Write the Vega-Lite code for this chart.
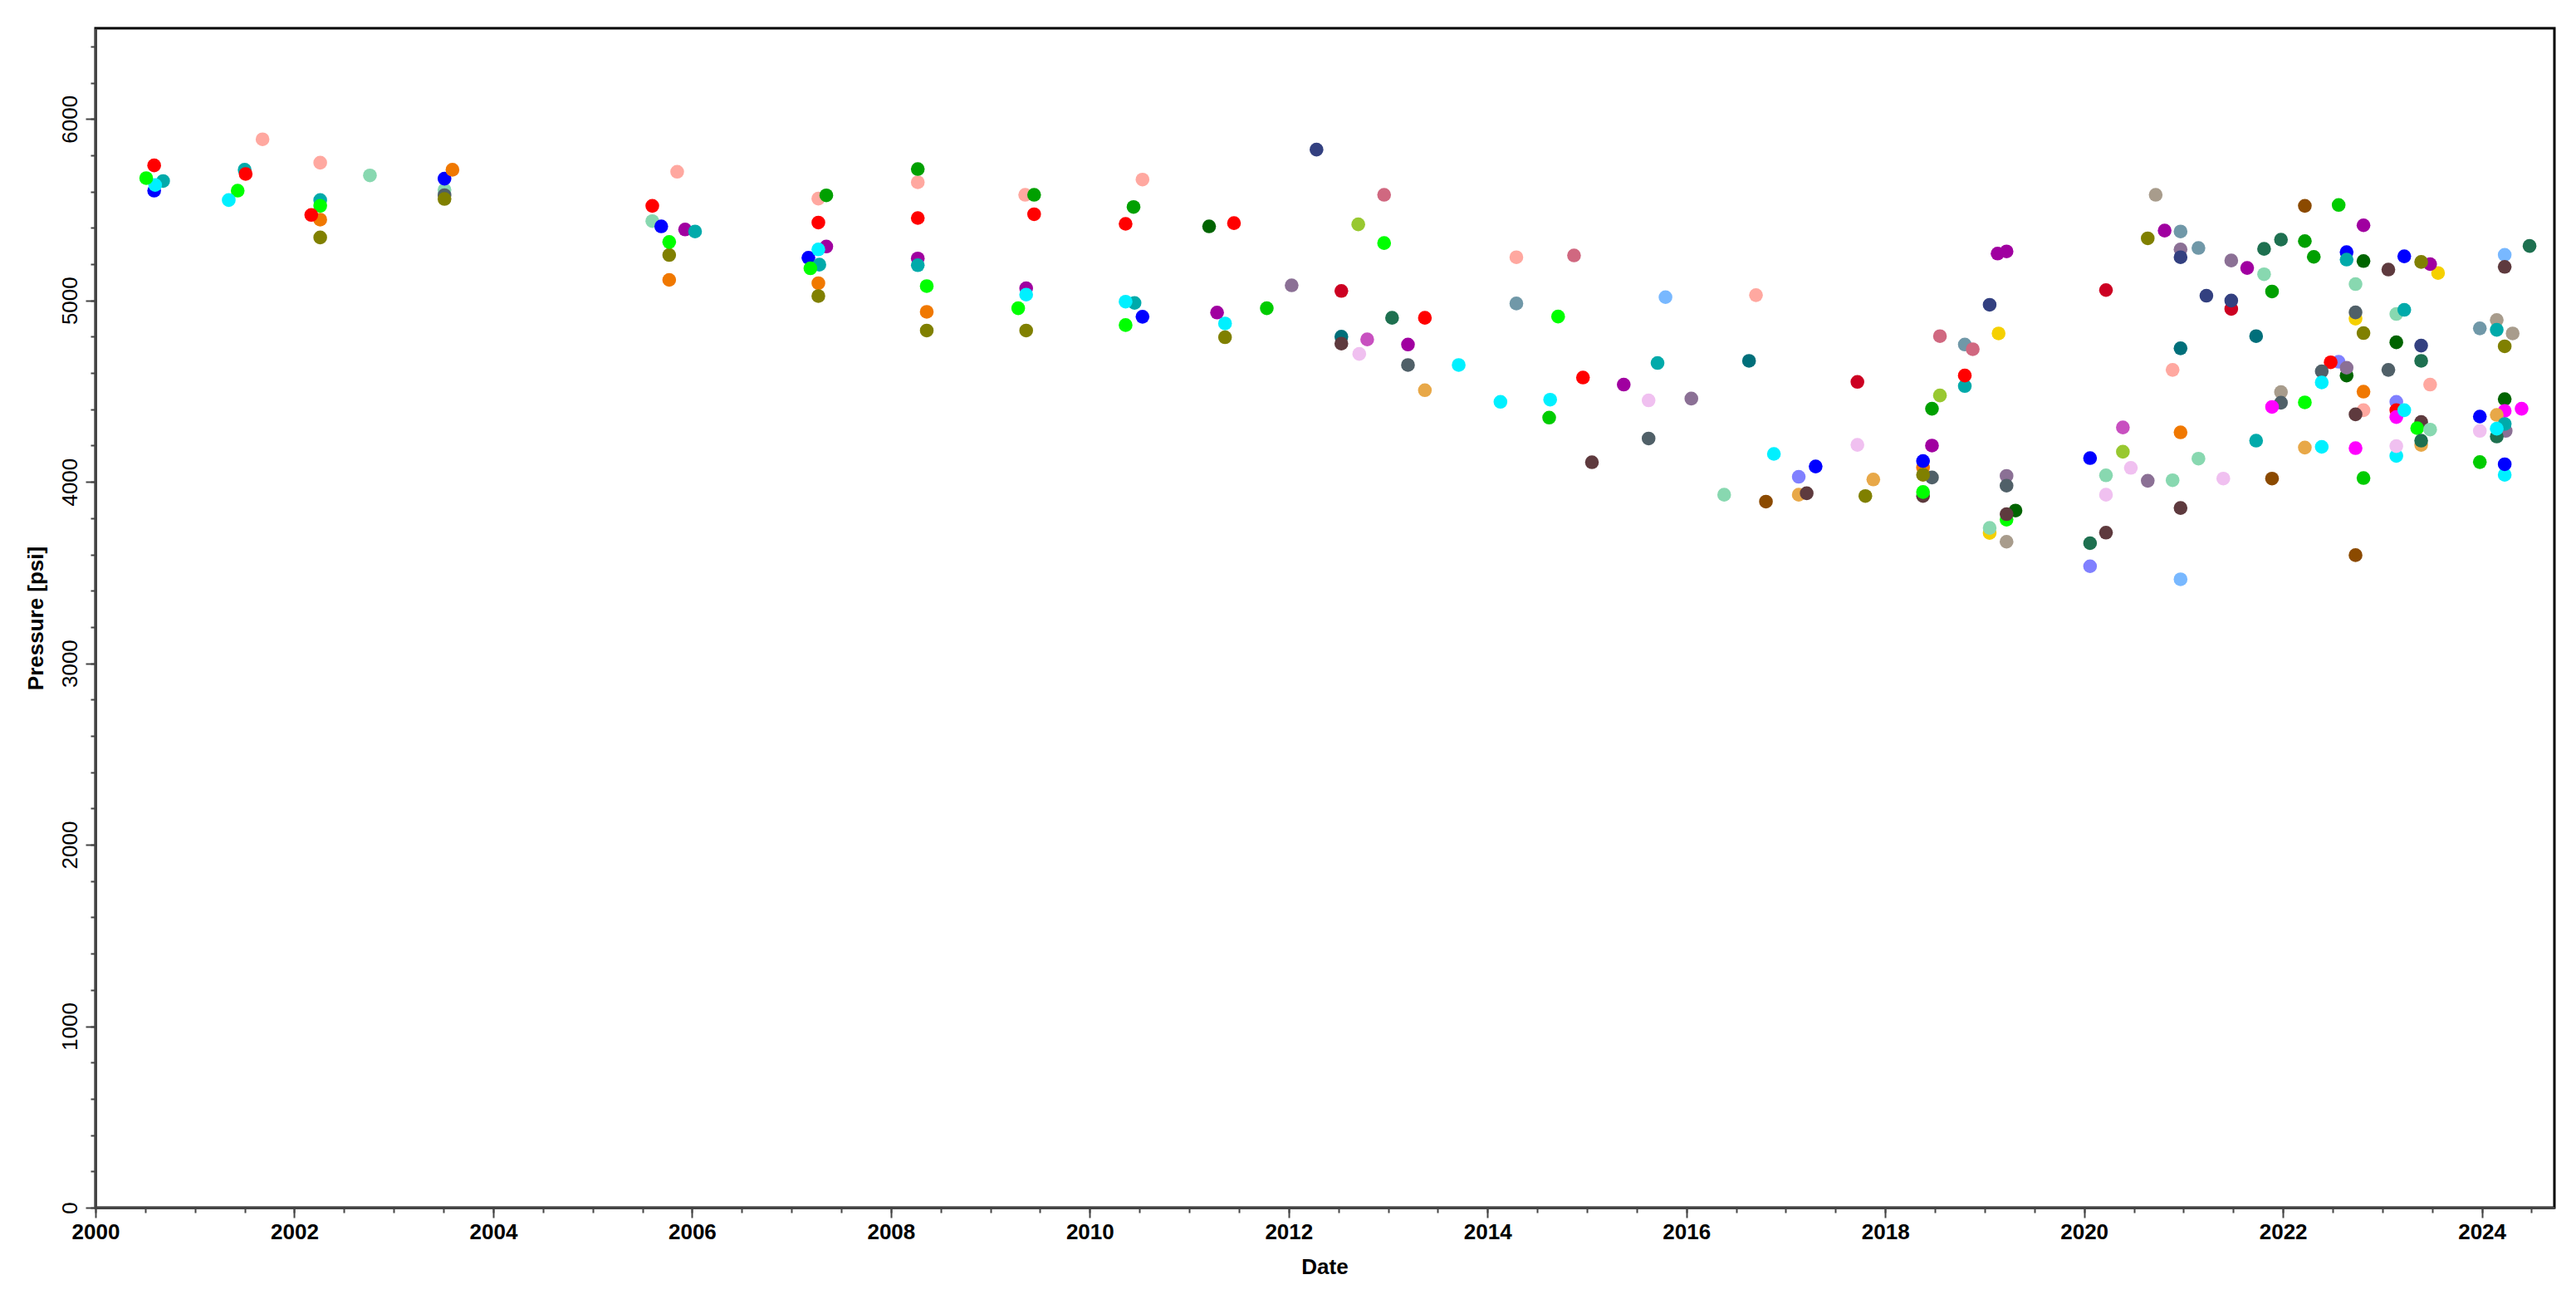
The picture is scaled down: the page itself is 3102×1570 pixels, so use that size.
{
  "$schema": "https://vega.github.io/schema/vega-lite/v6.json",
  "autosize": {"type": "none"},
  "width": 2961,
  "height": 1420,
  "padding": {"left": 115, "top": 34, "right": 26, "bottom": 116},
  "background": "white",
  "config": {
    "view": {"stroke": "#000000", "strokeWidth": 3},
    "axis": {"grid": false, "labelFont": "Liberation Sans", "titleFont": "Liberation Sans", "labelColor": "#000000", "titleColor": "#000000", "domainColor": "#444444", "domainWidth": 3, "tickColor": "#444444", "tickWidth": 2, "labelFlush": false, "labelOverlap": false, "labelBound": false}
  },
  "data": {"values": [
    {"t":2000.59,"p":5605,"c":"blue"},{"t":2000.68,"p":5658,"c":"teal"},{"t":2000.60,"p":5636,"c":"cyan"},{"t":2000.51,"p":5674,"c":"lime"},{"t":2000.59,"p":5744,"c":"red"},
    {"t":2001.68,"p":5888,"c":"salmon"},{"t":2001.50,"p":5720,"c":"teal"},{"t":2001.51,"p":5697,"c":"red"},{"t":2001.43,"p":5605,"c":"lime"},{"t":2001.34,"p":5553,"c":"cyan"},
    {"t":2002.26,"p":5759,"c":"salmon"},{"t":2002.26,"p":5553,"c":"teal"},{"t":2002.26,"p":5521,"c":"lime"},{"t":2002.26,"p":5445,"c":"orange"},{"t":2002.17,"p":5471,"c":"red"},{"t":2002.26,"p":5347,"c":"olive"},
    {"t":2002.76,"p":5689,"c":"mint"},
    {"t":2003.51,"p":5609,"c":"mint"},{"t":2003.51,"p":5580,"c":"slated"},{"t":2003.51,"p":5559,"c":"olive"},{"t":2003.51,"p":5671,"c":"blue"},{"t":2003.59,"p":5720,"c":"orange"},
    {"t":2005.85,"p":5709,"c":"salmon"},{"t":2005.60,"p":5521,"c":"red"},{"t":2005.60,"p":5437,"c":"mint"},{"t":2005.69,"p":5408,"c":"blue"},{"t":2005.93,"p":5391,"c":"purple"},{"t":2006.03,"p":5380,"c":"teal"},{"t":2005.77,"p":5250,"c":"olive"},{"t":2005.77,"p":5322,"c":"lime"},{"t":2005.77,"p":5113,"c":"orange"},
    {"t":2007.27,"p":5561,"c":"salmon"},{"t":2007.35,"p":5579,"c":"dgreen"},{"t":2007.27,"p":5429,"c":"red"},{"t":2007.35,"p":5297,"c":"purple"},{"t":2007.17,"p":5235,"c":"blue"},{"t":2007.28,"p":5197,"c":"teal"},{"t":2007.27,"p":5281,"c":"cyan"},{"t":2007.19,"p":5177,"c":"lime"},{"t":2007.27,"p":5095,"c":"orange"},{"t":2007.27,"p":5024,"c":"olive"},
    {"t":2008.27,"p":5651,"c":"salmon"},{"t":2008.27,"p":5724,"c":"dgreen"},{"t":2008.27,"p":5454,"c":"red"},{"t":2008.27,"p":5231,"c":"purple"},{"t":2008.27,"p":5194,"c":"teal"},{"t":2008.36,"p":5079,"c":"lime"},{"t":2008.36,"p":4937,"c":"orange"},{"t":2008.36,"p":4834,"c":"olive"},
    {"t":2009.35,"p":5582,"c":"salmon"},{"t":2009.44,"p":5582,"c":"dgreen"},{"t":2009.44,"p":5475,"c":"red"},{"t":2009.36,"p":5067,"c":"purple"},{"t":2009.36,"p":5032,"c":"cyan"},{"t":2009.28,"p":4957,"c":"lime"},{"t":2009.36,"p":4834,"c":"olive"},
    {"t":2010.53,"p":5666,"c":"salmon"},{"t":2010.44,"p":5515,"c":"dgreen"},{"t":2010.36,"p":5422,"c":"red"},{"t":2010.45,"p":4986,"c":"teal"},{"t":2010.36,"p":4993,"c":"cyan"},{"t":2010.53,"p":4910,"c":"blue"},{"t":2010.36,"p":4864,"c":"lime"},
    {"t":2011.20,"p":5408,"c":"ddgreen"},{"t":2011.45,"p":5426,"c":"red"},{"t":2011.28,"p":4933,"c":"purple"},{"t":2011.36,"p":4873,"c":"cyan"},{"t":2011.36,"p":4797,"c":"olive"},{"t":2011.78,"p":4957,"c":"green2"},{"t":2012.03,"p":5083,"c":"mauve"},{"t":2012.28,"p":5831,"c":"navy"},
    {"t":2012.53,"p":5052,"c":"crimson"},{"t":2012.53,"p":4800,"c":"dteal"},{"t":2012.53,"p":4762,"c":"brownd"},{"t":2012.96,"p":5582,"c":"rose"},{"t":2012.70,"p":5419,"c":"ygreen"},{"t":2012.96,"p":5316,"c":"lime"},{"t":2013.04,"p":4904,"c":"dgteal"},{"t":2013.37,"p":4904,"c":"red"},{"t":2012.79,"p":4785,"c":"orchid"},{"t":2013.20,"p":4757,"c":"purple"},{"t":2012.71,"p":4705,"c":"pinkl"},
    {"t":2014.29,"p":5238,"c":"salmon"},{"t":2014.87,"p":5248,"c":"rose"},{"t":2014.29,"p":4983,"c":"slateb"},{"t":2014.71,"p":4911,"c":"lime"},{"t":2015.79,"p":5018,"c":"lblue"},{"t":2016.70,"p":5029,"c":"salmon"},
    {"t":2019.13,"p":5258,"c":"purple"},{"t":2019.22,"p":5270,"c":"purple"},{"t":2019.05,"p":4976,"c":"navy"},{"t":2019.14,"p":4818,"c":"gold"},{"t":2018.55,"p":4803,"c":"rose"},{"t":2018.80,"p":4757,"c":"slateb"},{"t":2018.88,"p":4731,"c":"rose"},{"t":2020.22,"p":5057,"c":"crimson"},
    {"t":2020.72,"p":5582,"c":"khaki"},{"t":2020.64,"p":5342,"c":"olive"},{"t":2020.81,"p":5385,"c":"purple"},{"t":2020.97,"p":5380,"c":"slateb"},{"t":2020.97,"p":5281,"c":"mauve"},{"t":2020.97,"p":5238,"c":"navy"},{"t":2021.15,"p":5289,"c":"slateb"},{"t":2021.48,"p":5220,"c":"mauve"},
    {"t":2021.23,"p":5026,"c":"navy"},{"t":2021.48,"p":4953,"c":"crimson"},{"t":2021.48,"p":4999,"c":"navy"},{"t":2020.97,"p":4736,"c":"dteal"},{"t":2021.73,"p":4803,"c":"dteal"},{"t":2021.64,"p":5179,"c":"purple"},{"t":2021.81,"p":5144,"c":"mint"},{"t":2021.81,"p":5284,"c":"dgteal"},{"t":2021.98,"p":5335,"c":"dgteal"},{"t":2021.89,"p":5049,"c":"dgreen"},
    {"t":2022.22,"p":5521,"c":"brown"},{"t":2022.56,"p":5526,"c":"green2"},{"t":2022.81,"p":5414,"c":"purple"},{"t":2022.22,"p":5327,"c":"dgreen"},{"t":2022.31,"p":5240,"c":"dgreen"},{"t":2022.64,"p":5266,"c":"blue"},{"t":2022.64,"p":5225,"c":"teal"},{"t":2022.81,"p":5217,"c":"ddgreen"},{"t":2022.73,"p":5090,"c":"mint"},
    {"t":2022.73,"p":4899,"c":"gold"},{"t":2022.73,"p":4934,"c":"slated"},{"t":2022.81,"p":4820,"c":"olive"},{"t":2023.06,"p":5170,"c":"brownd"},{"t":2023.22,"p":5243,"c":"blue"},{"t":2023.56,"p":5151,"c":"gold"},{"t":2023.48,"p":5200,"c":"purple"},{"t":2023.39,"p":5212,"c":"olive"},
    {"t":2023.14,"p":4925,"c":"mint"},{"t":2023.22,"p":4948,"c":"teal"},{"t":2023.14,"p":4769,"c":"ddgreen"},{"t":2023.39,"p":4667,"c":"dgteal"},{"t":2023.39,"p":4751,"c":"navy"},
    {"t":2024.23,"p":5251,"c":"lblue"},{"t":2024.23,"p":5185,"c":"brownd"},{"t":2024.48,"p":5300,"c":"dgteal"},{"t":2023.98,"p":4846,"c":"slateb"},{"t":2024.15,"p":4892,"c":"khaki"},{"t":2024.31,"p":4818,"c":"khaki"},{"t":2024.15,"p":4838,"c":"teal"},{"t":2024.23,"p":4747,"c":"olive"},
    {"t":2013.20,"p":4644,"c":"slated"},{"t":2013.71,"p":4644,"c":"cyan"},{"t":2013.37,"p":4505,"c":"sandy"},{"t":2014.13,"p":4441,"c":"cyan"},{"t":2014.63,"p":4453,"c":"cyan"},{"t":2014.62,"p":4354,"c":"green2"},{"t":2014.96,"p":4575,"c":"red"},{"t":2015.37,"p":4536,"c":"purple"},{"t":2015.62,"p":4449,"c":"pinkl"},{"t":2015.71,"p":4655,"c":"teal"},{"t":2016.05,"p":4459,"c":"mauve"},{"t":2015.62,"p":4239,"c":"slated"},{"t":2015.05,"p":4108,"c":"brownd"},
    {"t":2016.63,"p":4667,"c":"dteal"},{"t":2016.38,"p":3929,"c":"mint"},{"t":2016.80,"p":3891,"c":"brown"},{"t":2017.72,"p":4551,"c":"crimson"},{"t":2016.88,"p":4154,"c":"cyan"},{"t":2017.13,"p":4028,"c":"lav"},{"t":2017.30,"p":4085,"c":"blue"},{"t":2017.13,"p":3929,"c":"sandy"},{"t":2017.21,"p":3937,"c":"brownd"},{"t":2017.72,"p":4204,"c":"pinkl"},{"t":2017.88,"p":4013,"c":"sandy"},{"t":2017.80,"p":3922,"c":"olive"},
    {"t":2018.80,"p":4528,"c":"teal"},{"t":2018.80,"p":4586,"c":"red"},{"t":2018.55,"p":4476,"c":"ygreen"},{"t":2018.47,"p":4403,"c":"dgreen"},{"t":2018.47,"p":4200,"c":"purple"},{"t":2018.47,"p":4024,"c":"slated"},{"t":2018.38,"p":4079,"c":"orange"},{"t":2018.38,"p":4039,"c":"olive"},{"t":2018.38,"p":4115,"c":"blue"},{"t":2018.38,"p":3922,"c":"brownd"},{"t":2018.38,"p":3944,"c":"lime"},
    {"t":2019.22,"p":4033,"c":"mauve"},{"t":2019.22,"p":3979,"c":"slated"},{"t":2019.31,"p":3842,"c":"ddgreen"},{"t":2019.22,"p":3792,"c":"lime"},{"t":2019.22,"p":3822,"c":"brownd"},{"t":2019.05,"p":3718,"c":"gold"},{"t":2019.05,"p":3746,"c":"mint"},{"t":2019.22,"p":3670,"c":"khaki"},
    {"t":2020.06,"p":4131,"c":"blue"},{"t":2020.22,"p":4036,"c":"mint"},{"t":2020.22,"p":3929,"c":"pinkl"},{"t":2020.22,"p":3720,"c":"brownd"},{"t":2020.06,"p":3662,"c":"dgteal"},{"t":2020.06,"p":3535,"c":"lav"},{"t":2020.39,"p":4300,"c":"orchid"},{"t":2020.39,"p":4166,"c":"ygreen"},{"t":2020.47,"p":4077,"c":"pinkl"},{"t":2020.64,"p":4006,"c":"mauve"},{"t":2020.89,"p":4009,"c":"mint"},{"t":2020.89,"p":4617,"c":"salmon"},{"t":2020.97,"p":4273,"c":"orange"},
    {"t":2021.15,"p":4128,"c":"mint"},{"t":2021.40,"p":4018,"c":"pinkl"},{"t":2020.97,"p":3856,"c":"brownd"},{"t":2020.97,"p":3463,"c":"lblue"},{"t":2021.73,"p":4227,"c":"teal"},{"t":2021.98,"p":4495,"c":"khaki"},{"t":2021.98,"p":4436,"c":"slated"},{"t":2021.89,"p":4413,"c":"magenta"},{"t":2022.22,"p":4438,"c":"lime"},{"t":2021.89,"p":4018,"c":"brown"},{"t":2022.22,"p":4189,"c":"sandy"},{"t":2022.39,"p":4193,"c":"cyan"},
    {"t":2022.56,"p":4662,"c":"lav"},{"t":2022.48,"p":4659,"c":"red"},{"t":2022.39,"p":4609,"c":"slated"},{"t":2022.64,"p":4586,"c":"ddgreen"},{"t":2022.64,"p":4629,"c":"mauve"},{"t":2022.39,"p":4548,"c":"cyan"},{"t":2022.81,"p":4497,"c":"orange"},{"t":2022.81,"p":4395,"c":"salmon"},{"t":2022.73,"p":4372,"c":"brownd"},{"t":2022.73,"p":4186,"c":"magenta"},{"t":2022.81,"p":4021,"c":"green2"},{"t":2022.73,"p":3596,"c":"brown"},
    {"t":2023.06,"p":4617,"c":"slated"},{"t":2023.14,"p":4441,"c":"lav"},{"t":2023.14,"p":4395,"c":"red"},{"t":2023.14,"p":4357,"c":"magenta"},{"t":2023.22,"p":4395,"c":"cyan"},{"t":2023.14,"p":4143,"c":"cyan"},{"t":2023.14,"p":4197,"c":"pinkl"},{"t":2023.48,"p":4536,"c":"salmon"},{"t":2023.39,"p":4330,"c":"brownd"},{"t":2023.35,"p":4296,"c":"lime"},{"t":2023.48,"p":4288,"c":"mint"},{"t":2023.39,"p":4204,"c":"sandy"},{"t":2023.39,"p":4227,"c":"dgteal"},
    {"t":2024.23,"p":4456,"c":"ddgreen"},{"t":2024.40,"p":4403,"c":"magenta"},{"t":2024.23,"p":4391,"c":"magenta"},{"t":2023.98,"p":4360,"c":"blue"},{"t":2024.15,"p":4369,"c":"sandy"},{"t":2024.24,"p":4281,"c":"mauve"},{"t":2024.23,"p":4319,"c":"teal"},{"t":2024.15,"p":4250,"c":"dgteal"},{"t":2024.15,"p":4293,"c":"cyan"},{"t":2023.98,"p":4281,"c":"pinkl"},{"t":2023.98,"p":4109,"c":"green2"},{"t":2024.23,"p":4039,"c":"cyan"},{"t":2024.23,"p":4097,"c":"blue"}
  ]},
  "layer": [
    {
      "mark": {"type": "circle", "opacity": 0},
      "encoding": {
        "x": {"field": "t", "type": "quantitative", "scale": {"domain": [2000, 2024.73], "nice": false, "zero": false},
          "axis": {"orient": "bottom", "values": [2000,2000.5,2001,2001.5,2002,2002.5,2003,2003.5,2004,2004.5,2005,2005.5,2006,2006.5,2007,2007.5,2008,2008.5,2009,2009.5,2010,2010.5,2011,2011.5,2012,2012.5,2013,2013.5,2014,2014.5,2015,2015.5,2016,2016.5,2017,2017.5,2018,2018.5,2019,2019.5,2020,2020.5,2021,2021.5,2022,2022.5,2023,2023.5,2024,2024.5], "labels": false, "domain": false, "tickSize": 6, "title": null}},
        "y": {"field": "p", "type": "quantitative", "scale": {"domain": [0, 6500], "nice": false},
          "axis": {"orient": "left", "values": [0,200,400,600,800,1000,1200,1400,1600,1800,2000,2200,2400,2600,2800,3000,3200,3400,3600,3800,4000,4200,4400,4600,4800,5000,5200,5400,5600,5800,6000,6200,6400], "labels": false, "domain": false, "tickSize": 6, "title": null}}
      }
    },
    {
      "mark": {"type": "circle", "size": 275, "opacity": 1},
      "encoding": {
        "x": {"field": "t", "type": "quantitative",
          "axis": {"orient": "bottom", "values": [2000,2002,2004,2006,2008,2010,2012,2014,2016,2018,2020,2022,2024], "format": "d", "tickSize": 12, "labelFontSize": 26, "labelFontWeight": "bold", "labelPadding": 4, "title": "Date", "titleFontSize": 26, "titleFontWeight": "bold", "titleX": 1480, "titleY": 71, "titleBaseline": "middle", "titleAlign": "center"}},
        "y": {"field": "p", "type": "quantitative",
          "axis": {"orient": "left", "values": [0,1000,2000,3000,4000,5000,6000], "format": "d", "tickSize": 12, "labelFontSize": 26, "labelFontWeight": "normal", "labelAngle": 270, "labelAlign": "center", "labelBaseline": "alphabetic", "labelPadding": 11, "title": "Pressure [psi]", "titleFontSize": 26, "titleFontWeight": "bold", "titleAngle": 270, "titleX": -72, "titleY": 710, "titleAlign": "center", "titleBaseline": "middle"}},
        "color": {"field": "c", "type": "nominal", "legend": null,
          "scale": {"domain": ["red","lime","teal","cyan","blue","salmon","orange","olive","mint","purple","dgreen","ddgreen","green2","mauve","navy","crimson","dteal","brownd","rose","ygreen","dgteal","orchid","pinkl","slateb","lblue","gold","khaki","slated","sandy","lav","brown","magenta"],
            "range": ["#FF0000","#00FF00","#00AAAA","#00F0FF","#0000FF","#FFA8A0","#F07800","#808000","#88D8B0","#A000A0","#00A000","#006400","#00CC00","#8B7095","#334080","#CC0022","#006F7A","#5E3A3E","#D06880","#98C830","#1E7050","#C850C0","#F0C0F0","#7098A8","#78B8FF","#F5D000","#A89C8C","#506068","#E8A848","#8080FF","#8B4A00","#FF00FF"]}}
      }
    }
  ],
  "resolve": {"axis": {"x": "independent", "y": "independent"}}
}
